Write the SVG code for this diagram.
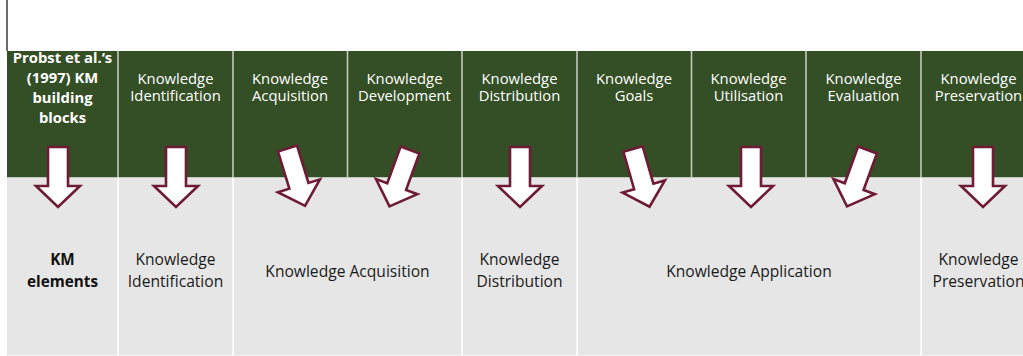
<svg xmlns="http://www.w3.org/2000/svg" xmlns:xlink="http://www.w3.org/1999/xlink" width="1023" height="356" viewBox="0 0 1023 356">
  <style>
    .head { fill: #344F25; }
    .body { fill: #E6E6E6; }
    .sep-top { stroke: #C9D1C4; stroke-width: 1.5; }
    .sep-bot { stroke: #FFFFFF; stroke-width: 1.5; }
    .ht { font-family: "Open Sans", "Noto Sans", sans-serif; font-size: 14.8px; fill: #FFFFFF; text-anchor: middle; }
    .htb { font-family: "Open Sans", "Noto Sans", sans-serif; font-size: 14.8px; font-weight: bold; fill: #FFFFFF; text-anchor: middle; }
    .bt { font-family: "Open Sans", "Noto Sans", sans-serif; font-size: 15.6px; fill: #1A1A1A; text-anchor: middle; }
    .btb { font-family: "Open Sans", "Noto Sans", sans-serif; font-size: 15.3px; font-weight: bold; fill: #111111; text-anchor: middle; }
    .arrow { fill: #FFFFFF; stroke: #6E1C36; stroke-width: 2.6; stroke-linejoin: miter; }
  </style>
  <defs>
    <!-- block arrow, tail centre at origin, pointing down -->
    <path id="blockArrow" d="M-10,0 H10 V39 H22 L0,60 L-22,39 H-10 Z"/>
  </defs>

  <rect width="1023" height="356" fill="#FFFFFF"/>
  <line x1="7" y1="0" x2="7" y2="51" stroke="#3A3A3A" stroke-width="1.5"/>

  <!-- table bands -->
  <rect class="head" x="7" y="51" width="1016" height="126.5"/>
  <rect class="body" x="7" y="177.5" width="1016" height="178"/>

  <!-- column separators -->
  <g id="separators">
    <line class="sep-top" x1="118" y1="51" x2="118" y2="177.5"/>
    <line class="sep-top" x1="233" y1="51" x2="233" y2="177.5"/>
    <line class="sep-top" x1="347.5" y1="51" x2="347.5" y2="177.5"/>
    <line class="sep-top" x1="462" y1="51" x2="462" y2="177.5"/>
    <line class="sep-top" x1="577" y1="51" x2="577" y2="177.5"/>
    <line class="sep-top" x1="691.5" y1="51" x2="691.5" y2="177.5"/>
    <line class="sep-top" x1="806" y1="51" x2="806" y2="177.5"/>
    <line class="sep-top" x1="921" y1="51" x2="921" y2="177.5"/>
    <line class="sep-bot" x1="118" y1="177.5" x2="118" y2="355.5"/>
    <line class="sep-bot" x1="233" y1="177.5" x2="233" y2="355.5"/>
    <line class="sep-bot" x1="462" y1="177.5" x2="462" y2="355.5"/>
    <line class="sep-bot" x1="577" y1="177.5" x2="577" y2="355.5"/>
    <line class="sep-bot" x1="921" y1="177.5" x2="921" y2="355.5"/>
  </g>

  <!-- building blocks (header row) -->
  <g id="probst-header">
    <text class="htb" x="62.5" y="63">Probst et al.‘s</text>
    <text class="htb" x="62.5" y="83">(1997) KM</text>
    <text class="htb" x="62.5" y="103">building</text>
    <text class="htb" x="62.5" y="123">blocks</text>
  </g>
  <g id="block-identification">
    <text class="ht" x="175.5" y="84">Knowledge</text>
    <text class="ht" x="175.5" y="101">Identification</text>
  </g>
  <g id="block-acquisition">
    <text class="ht" x="290" y="84">Knowledge</text>
    <text class="ht" x="290" y="101">Acquisition</text>
  </g>
  <g id="block-development">
    <text class="ht" x="404.5" y="84">Knowledge</text>
    <text class="ht" x="404.5" y="101">Development</text>
  </g>
  <g id="block-distribution">
    <text class="ht" x="519.5" y="84">Knowledge</text>
    <text class="ht" x="519.5" y="101">Distribution</text>
  </g>
  <g id="block-goals">
    <text class="ht" x="634" y="84">Knowledge</text>
    <text class="ht" x="634" y="101">Goals</text>
  </g>
  <g id="block-utilisation">
    <text class="ht" x="748.5" y="84">Knowledge</text>
    <text class="ht" x="748.5" y="101">Utilisation</text>
  </g>
  <g id="block-evaluation">
    <text class="ht" x="863.5" y="84">Knowledge</text>
    <text class="ht" x="863.5" y="101">Evaluation</text>
  </g>
  <g id="block-preservation">
    <text class="ht" x="978.5" y="84">Knowledge</text>
    <text class="ht" x="978.5" y="101">Preservation</text>
  </g>

  <!-- KM elements (lower row) -->
  <g id="km-elements">
    <text class="btb" x="62.5" y="265">KM</text>
    <text class="btb" x="62.5" y="287">elements</text>
  </g>
  <g id="element-identification">
    <text class="bt" x="175.5" y="265">Knowledge</text>
    <text class="bt" x="175.5" y="287">Identification</text>
  </g>
  <g id="element-acquisition">
    <text class="bt" x="347.5" y="276.5">Knowledge Acquisition</text>
  </g>
  <g id="element-distribution">
    <text class="bt" x="519.5" y="265">Knowledge</text>
    <text class="bt" x="519.5" y="287">Distribution</text>
  </g>
  <g id="element-application">
    <text class="bt" x="749" y="276.5">Knowledge Application</text>
  </g>
  <g id="element-preservation">
    <text class="bt" x="978.5" y="265">Knowledge</text>
    <text class="bt" x="978.5" y="287">Preservation</text>
  </g>

  <!-- mapping arrows -->
  <g id="connectors">
    <use xlink:href="#blockArrow" href="#blockArrow" class="arrow" transform="translate(58,147)"/>
    <use xlink:href="#blockArrow" href="#blockArrow" class="arrow" transform="translate(176,147)"/>
    <use xlink:href="#blockArrow" href="#blockArrow" class="arrow" transform="translate(287.5,148.5) rotate(-17)"/>
    <use xlink:href="#blockArrow" href="#blockArrow" class="arrow" transform="translate(410,150) rotate(20)"/>
    <use xlink:href="#blockArrow" href="#blockArrow" class="arrow" transform="translate(520,147)"/>
    <use xlink:href="#blockArrow" href="#blockArrow" class="arrow" transform="translate(633,149) rotate(-16)"/>
    <use xlink:href="#blockArrow" href="#blockArrow" class="arrow" transform="translate(751,147)"/>
    <use xlink:href="#blockArrow" href="#blockArrow" class="arrow" transform="translate(867.5,150) rotate(20)"/>
    <use xlink:href="#blockArrow" href="#blockArrow" class="arrow" transform="translate(983,147)"/>
  </g>
</svg>
